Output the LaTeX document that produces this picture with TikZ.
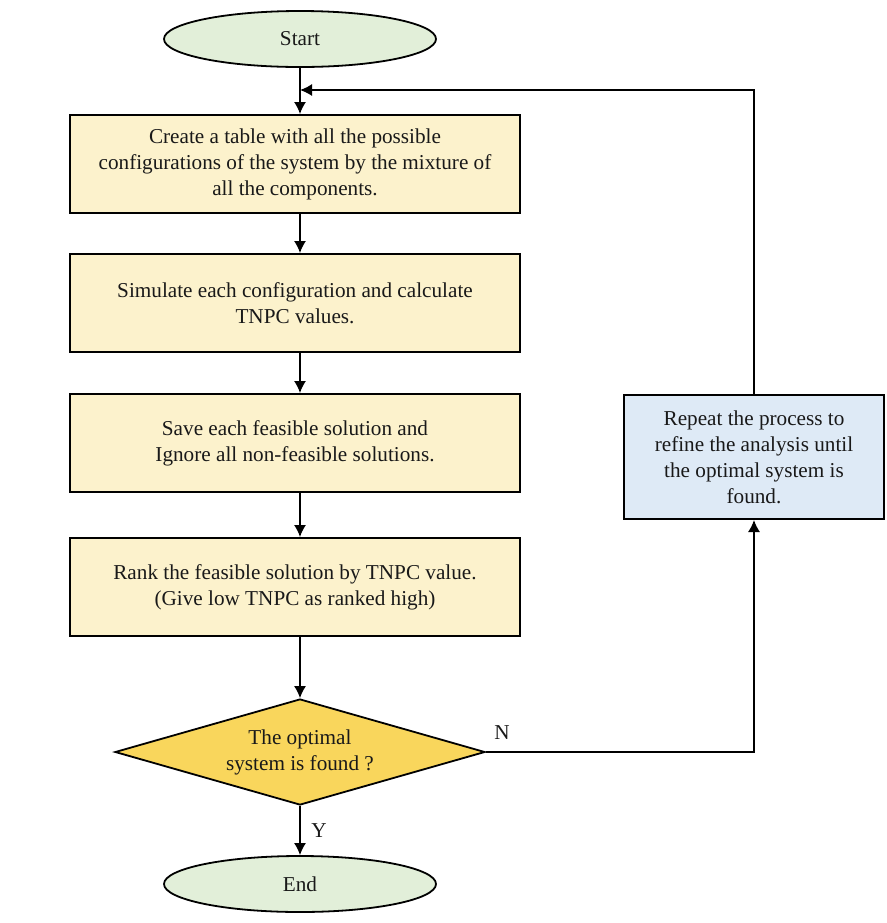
\documentclass[tikz,border=0pt]{standalone}
\usepackage{fontspec}
\setmainfont{Liberation Serif}
\usepackage{tikz}
\usetikzlibrary{arrows.meta}
\usetikzlibrary{shapes.geometric}

\definecolor{boxyellow}{RGB}{252,242,204}
\definecolor{termgreen}{RGB}{226,239,217}
\definecolor{decgold}{RGB}{249,214,92}
\definecolor{repblue}{RGB}{222,234,246}

\begin{document}
\begin{tikzpicture}[x=0.5pt,y=-0.5pt,
        every node/.style={font=\fontsize{10.6}{13}\selectfont, text=black!90},
        term/.style={ellipse, draw, line width=0.9pt, fill=termgreen, minimum width=136pt, minimum height=28pt, inner sep=0pt},
        procbox/.style={rectangle, draw, line width=1pt, fill=boxyellow, minimum width=225pt, minimum height=49pt, align=center},
        decide/.style={diamond, draw, line width=0.9pt, fill=decgold, minimum width=185pt, minimum height=53pt, aspect=3.5, inner sep=0pt, align=center},
        repbox/.style={rectangle, draw, line width=1pt, fill=repblue, minimum width=130pt, minimum height=62pt, align=center},
        link/.style={line width=0.7pt, -{Latex[length=6pt,width=6pt]}}]
        \useasboundingbox (0,0) rectangle (887,923);
        \fill[white] (0,0) rectangle (887,923);

        \node[term] (start) at (300,39) {Start};
        \node[procbox] (create) at (295,164) {Create a table with all the possible\\configurations of the system by the mixture of\\all the components.};
        \node[procbox] (simulate) at (295,303) {Simulate each configuration and calculate\\TNPC values.};
        \node[procbox] (save) at (295,443) {Save each feasible solution and\\Ignore all non-feasible solutions.};
        \node[procbox] (rank) at (295,587) {Rank the feasible solution by TNPC value.\\(Give low TNPC as ranked high)};
        \node[decide] (found) at (300,752) {The optimal\\system is found ?};
        \node[term] (stop) at (300,884) {End};
        \node[repbox] (repeat) at (754,457) {Repeat the process to\\refine the analysis until\\the optimal system is\\found.};

        \coordinate (join) at (300,90);
        \coordinate (nturn) at (repeat.south |- found.east);

        \draw[line width=0.7pt] (start) -- (join);
        \draw[link] (join) -- (create.north -| join);
        \draw[link] (create.south -| join) -- (simulate.north -| join);
        \draw[link] (simulate.south -| join) -- (save.north -| join);
        \draw[link] (save.south -| join) -- (rank.north -| join);
        \draw[link] (rank.south -| join) -- (found);
        \draw[link] (found) -- node[right, xshift=2pt] {Y} (stop);
        \draw[link] (found.east) -- (nturn) -- (repeat.south);
        \draw[link] (repeat.north) |- (join);
        \node (nlabel) at (502,733) {N};
\end{tikzpicture}
\end{document}
